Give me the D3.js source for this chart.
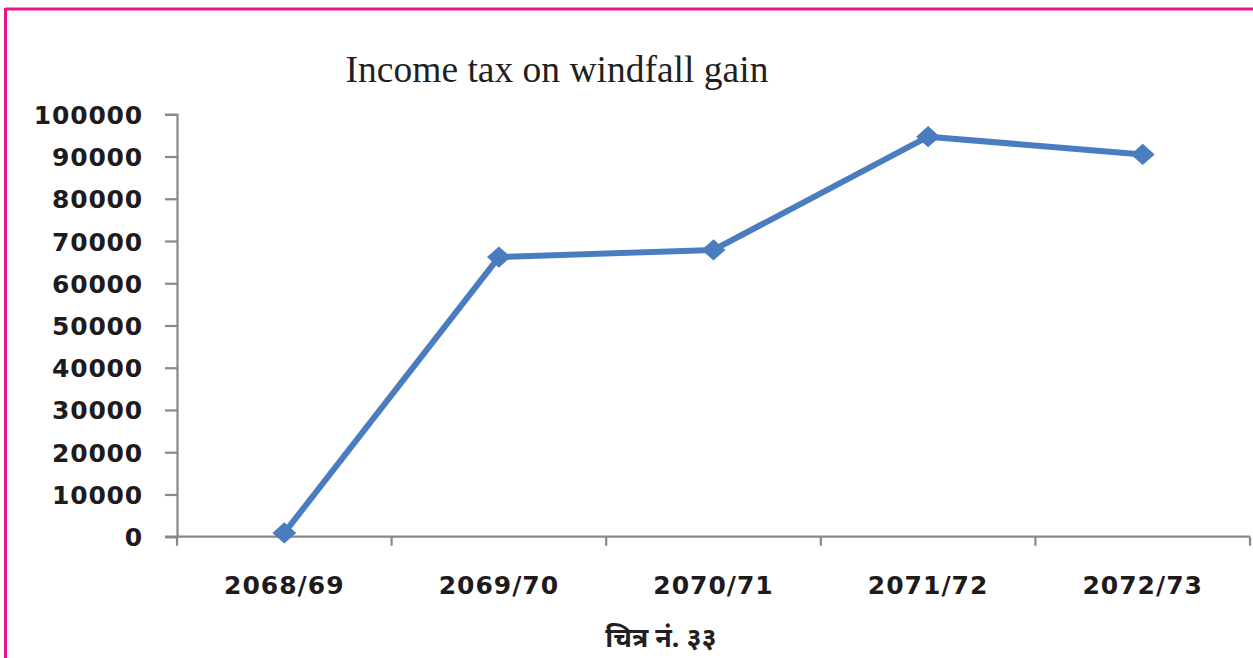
<!DOCTYPE html>
<html>
<head>
<meta charset="utf-8">
<script src="https://cdn.jsdelivr.net/npm/d3@7"></script>
<style>
  html, body { margin: 0; padding: 0; background: #ffffff; }
  svg { display: block; }
</style>
</head>
<body>
<svg id="chart" width="1253" height="658"></svg>
<script>
// Income tax on windfall gain, by fiscal year (Nepali calendar)
const categories = ["2068/69", "2069/70", "2070/71", "2071/72", "2072/73"];
const taxValues = [900, 66200, 67900, 94700, 90500];
const yTickValues = [0, 10000, 20000, 30000, 40000, 50000, 60000, 70000, 80000, 90000, 100000];
const chartTitle = "Income tax on windfall gain";
const figureCaption = "चित्र नं. ३३";

const svg = d3.select("#chart");
const W = 1253, H = 658;

// page frame (magenta rule on top and left)
svg.append("rect").attr("x", 0).attr("y", 0).attr("width", W).attr("height", H).attr("fill", "#ffffff");
svg.append("line").attr("x1", 5).attr("x2", W).attr("y1", 9).attr("y2", 9)
  .attr("stroke", "#ec128c").attr("stroke-width", 3);
svg.append("line").attr("x1", 5.5).attr("x2", 5.5).attr("y1", 8).attr("y2", H)
  .attr("stroke", "#ec128c").attr("stroke-width", 3);

const plot = { left: 177, right: 1250, top: 114.3, bottom: 536.7 };

const x = d3.scaleBand().domain(categories).range([plot.left, plot.right]).padding(0);
const y = d3.scaleLinear().domain([0, 100000]).range([plot.bottom, plot.top]);

const axisColor = "#888888";
const labelFont = "DejaVu Sans, Verdana, sans-serif";

// y axis
const yAxis = svg.append("g")
  .attr("transform", `translate(${plot.left},0)`)
  .call(d3.axisLeft(y).tickValues(yTickValues).tickSize(12).tickPadding(22).tickFormat(d3.format("d")));
yAxis.select(".domain").attr("stroke", axisColor).attr("stroke-width", 2.2);
yAxis.selectAll(".tick line").attr("stroke", axisColor).attr("stroke-width", 2.2);
yAxis.selectAll(".tick text")
  .attr("fill", "#1f1a1c")
  .attr("font-family", labelFont)
  .attr("font-weight", "bold")
  .attr("font-size", 25)
  .attr("letter-spacing", "0.8px")
  .attr("dy", "0.36em");

// x axis with ticks on category boundaries
const xAxisG = svg.append("g").attr("transform", `translate(0,${plot.bottom})`);
xAxisG.append("line")
  .attr("x1", plot.left - 12).attr("x2", plot.right)
  .attr("y1", 0).attr("y2", 0)
  .attr("stroke", axisColor).attr("stroke-width", 2.2);
const boundaries = categories.map(c => x(c)).concat([x(categories[categories.length - 1]) + x.bandwidth()]);
xAxisG.selectAll("line.tick").data(boundaries).join("line")
  .attr("class", "tick")
  .attr("x1", d => d).attr("x2", d => d)
  .attr("y1", 0).attr("y2", 9)
  .attr("stroke", axisColor).attr("stroke-width", 2.2);
xAxisG.selectAll("text.cat").data(categories).join("text")
  .attr("class", "cat")
  .attr("x", d => x(d) + x.bandwidth() / 2)
  .attr("y", 57)
  .attr("text-anchor", "middle")
  .attr("fill", "#1f1a1c")
  .attr("font-family", labelFont)
  .attr("font-weight", "bold")
  .attr("font-size", 25)
  .attr("letter-spacing", "1px")
  .text(d => d);

// title
svg.append("text")
  .attr("x", 557).attr("y", 82)
  .attr("text-anchor", "middle")
  .attr("font-family", "Liberation Serif, Times New Roman, serif")
  .attr("font-size", 37.5)
  .attr("fill", "#231f20")
  .text(chartTitle);

// data line
const points = categories.map((c, i) => ({ cat: c, value: taxValues[i] }));
const line = d3.line()
  .x(d => x(d.cat) + x.bandwidth() / 2)
  .y(d => y(d.value));
const blue = "#4a7dbf";
svg.append("path")
  .datum(points)
  .attr("d", line)
  .attr("fill", "none")
  .attr("stroke", blue)
  .attr("stroke-width", 6)
  .attr("stroke-linejoin", "round");

// diamond markers, slightly wider than tall
const diamond = d3.symbol().type(d3.symbolDiamond2).size(290);
svg.selectAll("path.marker").data(points).join("path")
  .attr("class", "marker")
  .attr("d", diamond)
  .attr("transform", d => `translate(${x(d.cat) + x.bandwidth() / 2},${y(d.value)}) scale(1.12,1)`)
  .attr("fill", blue);

// figure caption
svg.append("text")
  .attr("x", 661).attr("y", 647)
  .attr("text-anchor", "middle")
  .attr("font-family", "Noto Sans, sans-serif")
  .attr("font-weight", "bold")
  .attr("font-size", 27)
  .attr("fill", "#231f20")
  .text(figureCaption);
</script>
</body>
</html>
